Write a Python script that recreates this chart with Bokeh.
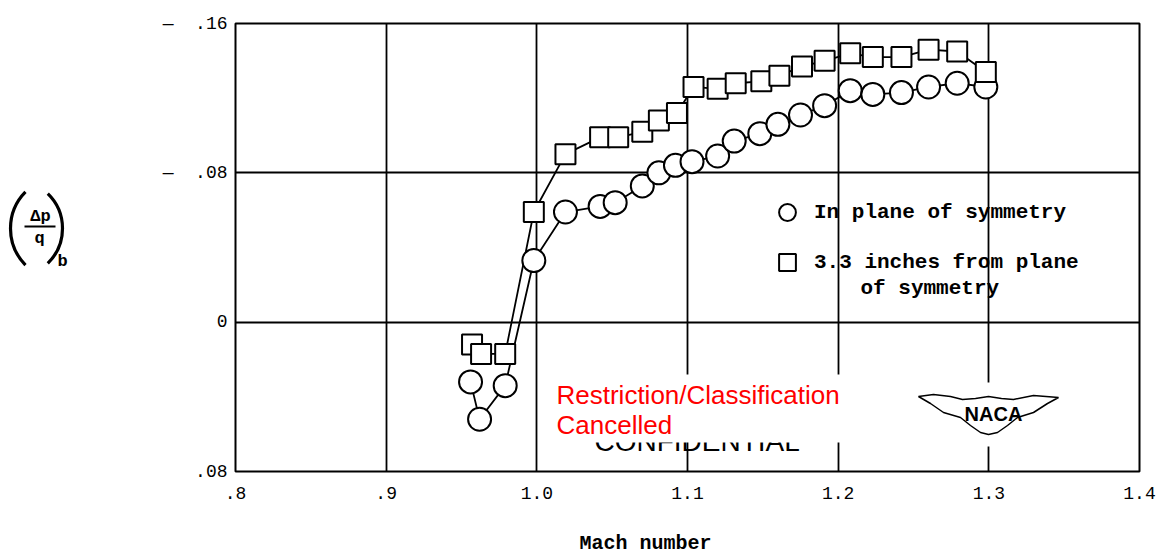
from bokeh.plotting import figure
from bokeh.layouts import row
from bokeh.models import (Range1d, FixedTicker, Label, Legend, LegendItem,
                          PolyAnnotation, BoxAnnotation)
from bokeh.core.properties import value
from bokeh.embed import file_html
from bokeh.resources import INLINE

# ---- data ----
mach_circle = [0.956, 0.962, 0.979, 0.998, 1.019, 1.042, 1.052, 1.070, 1.081,
               1.092, 1.103, 1.120, 1.131, 1.148, 1.160, 1.175, 1.191, 1.208,
               1.223, 1.242, 1.260, 1.279, 1.298]
dp_circle = [0.032, 0.052, 0.034, -0.033, -0.059, -0.062, -0.064, -0.073,
             -0.080, -0.084, -0.086, -0.089, -0.097, -0.101, -0.106, -0.111,
             -0.116, -0.124, -0.122, -0.123, -0.126, -0.128, -0.126]

mach_square = [0.957, 0.963, 0.979, 0.998, 1.019, 1.042, 1.054, 1.070, 1.081,
               1.093, 1.104, 1.120, 1.132, 1.149, 1.161, 1.176, 1.191, 1.208,
               1.223, 1.242, 1.260, 1.279, 1.298]
dp_square = [0.012, 0.017, 0.017, -0.059, -0.090, -0.099, -0.099, -0.102,
             -0.108, -0.112, -0.126, -0.125, -0.128, -0.129, -0.132, -0.137,
             -0.140, -0.144, -0.142, -0.142, -0.146, -0.145, -0.134]

x_ticks = [0.8, 0.9, 1.0, 1.1, 1.2, 1.3, 1.4]
x_tick_labels = [".8", ".9", "1.0", "1.1", "1.2", "1.3", "1.4"]
y_ticks = [-0.16, -0.08, 0.0, 0.08]
y_tick_labels = ["\u2014\u00a0\u00a0.16", "\u2014\u00a0\u00a0.08", "0", ".08"]

series_names = ["In plane of symmetry", "3.3 inches from plane"]
series_name_cont = "of symmetry"
x_title = "Mach number"

# ---- geometry (page pixels) ----
X0, X1 = 0.8, 1.4
Y_BOTTOM, Y_TOP = 0.08, -0.16
FL, FT, FW, FH = 235, 23, 904, 448   # frame position on the page
LW = 90                              # width of the y-title strip
H = 551
FB = H - FT - FH


def dx(px):
    return X0 + (px - FL) / FW * (X1 - X0)


def dy(py):
    return Y_TOP + (py - FT) / FH * (Y_BOTTOM - Y_TOP)


TYPE = "Liberation Mono"

# ---- y title strip: (delta p / q)_b ----
t = figure(frame_width=LW, frame_height=FH, min_border_left=0,
           min_border_right=0, min_border_top=FT, min_border_bottom=FB,
           x_range=Range1d(0, LW), y_range=Range1d(FT + FH, FT),
           output_backend="svg", toolbar_location=None)
t.axis.visible = False
t.grid.visible = False
t.outline_line_color = None
t.background_fill_color = "white"
t.border_fill_color = "white"
t.arc(x=[62], y=[228], radius=52, start_angle=2.363, end_angle=3.920,
      line_color="black", line_width=3.2)
t.arc(x=[13.5], y=[228], radius=48.5, start_angle=-0.80, end_angle=0.80,
      line_color="black", line_width=3.2)
t.segment(x0=[24], y0=[226], x1=[55], y1=[226], line_color="black",
          line_width=1.8)
for txt, a, b in [("\u0394p", 40, 216), ("q", 39, 238), ("b", 62, 261)]:
    t.text(x=[a], y=[b], text=[txt], text_align="center",
           text_baseline="middle", text_font=value(TYPE),
           text_font_style="bold", text_font_size="17px", text_color="black")

# ---- main chart ----
p = figure(frame_width=FW, frame_height=FH,
           min_border_left=FL - LW, min_border_right=19,
           min_border_top=FT, min_border_bottom=FB,
           x_range=Range1d(X0, X1), y_range=Range1d(Y_BOTTOM, Y_TOP),
           output_backend="svg", toolbar_location=None)
p.background_fill_color = "white"
p.border_fill_color = "white"
p.outline_line_color = "black"
p.outline_line_width = 2

p.xaxis.ticker = FixedTicker(ticks=x_ticks)
p.yaxis.ticker = FixedTicker(ticks=y_ticks)
p.xaxis.major_label_overrides = dict(zip(x_ticks, x_tick_labels))
p.yaxis.major_label_overrides = dict(zip(y_ticks, y_tick_labels))
for ax in (p.xaxis, p.yaxis):
    ax.axis_line_color = None
    ax.major_tick_line_color = None
    ax.minor_tick_line_color = None
    ax.major_label_text_font = TYPE
    ax.major_label_text_color = "black"
p.xaxis.major_label_text_font_size = "18px"
p.yaxis.major_label_text_font_size = "18px"
p.xaxis.major_label_standoff = 9
p.yaxis.major_label_standoff = 2

p.xaxis.axis_label = x_title + "\u00a0" * 7
p.xaxis.axis_label_text_font = TYPE
p.xaxis.axis_label_text_font_style = "bold"
p.xaxis.axis_label_text_font_size = "20px"
p.xaxis.axis_label_text_color = "black"
p.xaxis.axis_label_standoff = 30

p.xgrid.grid_line_color = "black"
p.ygrid.grid_line_color = "black"
p.xgrid.grid_line_width = 1.8
p.ygrid.grid_line_width = 1.8

# ---- data lines and markers ----
p.line(mach_circle, dp_circle, line_color="black", line_width=1.8)
p.line(mach_square, dp_square, line_color="black", line_width=1.8)
rc = p.scatter(mach_circle, dp_circle, marker="circle", size=23,
               fill_color="white", line_color="black", line_width=2)
rs = p.scatter(mach_square, dp_square, marker="square", size=20,
               fill_color="white", line_color="black", line_width=2)

legend = Legend(items=[LegendItem(label=series_names[0], renderers=[rc]),
                       LegendItem(label=series_names[1], renderers=[rs])],
                location=(531, 188), orientation="vertical",
                glyph_width=42, glyph_height=42, label_standoff=6,
                spacing=8, padding=0, margin=0,
                border_line_color=None, background_fill_alpha=0,
                label_text_font=TYPE, label_text_font_style="bold",
                label_text_font_size="21px", label_text_color="black")
p.add_layout(legend, "center")
p.add_layout(Label(x=dx(860), y=dy(288), text=series_name_cont,
                   text_align="left", text_baseline="middle",
                   text_font=TYPE, text_font_style="bold",
                   text_font_size="21px", text_color="black"))

# ---- NACA logo ----
p.add_layout(BoxAnnotation(left=dx(978), right=dx(998), top=dy(382),
                           bottom=dy(446), fill_color="white", fill_alpha=1,
                           line_color=None))
wing_px = [(918, 396), (933, 394), (950, 396), (962, 399), (975, 398),
           (988, 396), (1001, 398), (1013, 399), (1033, 395), (1058, 397),
           (1047, 403), (1033, 412), (1017, 417), (1007, 425), (997, 432),
           (988, 434), (980, 432), (970, 425), (960, 417), (943, 412),
           (930, 403)]
p.add_layout(PolyAnnotation(xs=[dx(a) for a, b in wing_px],
                            ys=[dy(b) for a, b in wing_px],
                            fill_color="white", fill_alpha=1,
                            line_color="black", line_alpha=1,
                            line_width=1.5))
p.add_layout(Label(x=dx(993), y=dy(413), text="NACA", text_align="center",
                   text_baseline="middle", text_font="Liberation Sans",
                   text_font_style="bold", text_font_size="20px",
                   text_color="black"))

# ---- stamp texts ----
p.add_layout(Label(x=dx(594), y=dy(441), text="CONFIDENTIAL",
                   text_align="left", text_baseline="alphabetic",
                   text_font="Liberation Sans", text_font_size="28px",
                   text_color="black"))
p.add_layout(Label(x=dx(553), y=dy(374),
                   text="Restriction/Classification\nCancelled",
                   text_align="left", text_baseline="top",
                   text_font="Liberation Sans", text_font_size="26px",
                   text_color="#ff0000", text_line_height=1.0,
                   background_fill_color="white", background_fill_alpha=1,
                   padding=(3, 3, 5, 3)))

layout = row(t, p)
open("out.html", "w").write(file_html(layout, INLINE))
